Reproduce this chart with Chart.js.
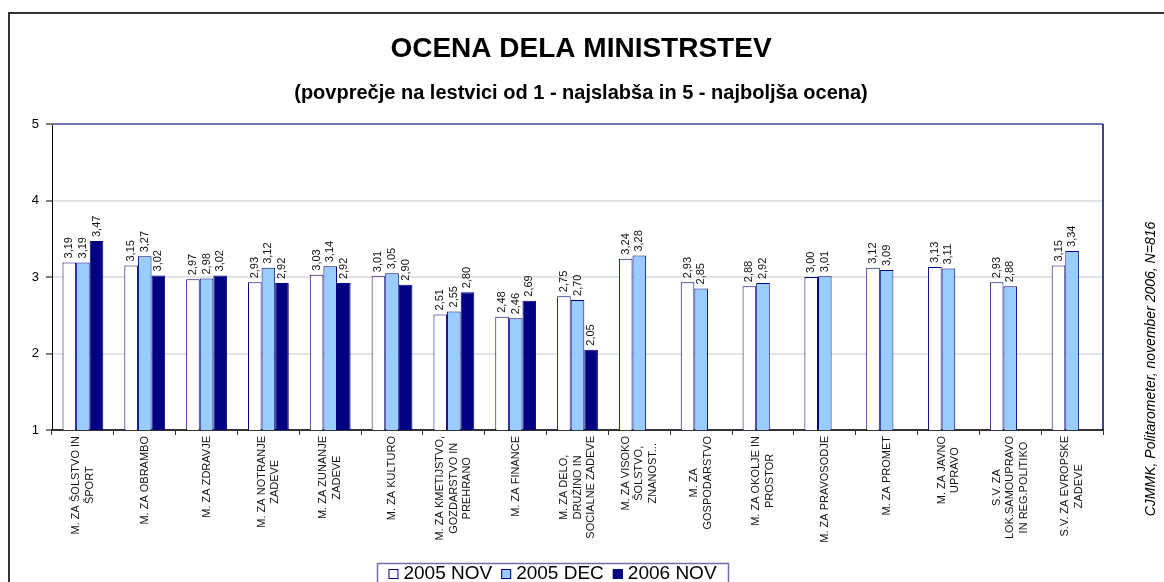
<!DOCTYPE html>
<html><head><meta charset="utf-8">
<script src="https://cdn.jsdelivr.net/npm/chart.js@4/dist/chart.umd.min.js"></script>
<style>html,body{margin:0;padding:0;background:#fff;overflow:hidden}#wrap{width:1164px;height:582px;position:relative}</style>
</head><body><div id="wrap"><canvas id="c" width="1164" height="582"></canvas></div>
<script>
const titleText = 'OCENA DELA MINISTRSTEV';
const subtitleText = '(povprečje na lestvici od 1 - najslabša in 5 - najboljša ocena)';
const sourceText = 'CJMMK, Politarometer, november 2006, N=816';
const categories = [
  ['M. ZA ŠOLSTVO IN', 'ŠPORT'],
  ['M. ZA OBRAMBO'],
  ['M. ZA ZDRAVJE'],
  ['M. ZA NOTRANJE', 'ZADEVE'],
  ['M. ZA ZUNANJE', 'ZADEVE'],
  ['M. ZA KULTURO'],
  ['M. ZA KMETIJSTVO,', 'GOZDARSTVO IN', 'PREHRANO'],
  ['M. ZA FINANCE'],
  ['M. ZA DELO,', 'DRUŽINO IN', 'SOCIALNE ZADEVE'],
  ['M. ZA VISOKO', 'ŠOLSTVO,', 'ZNANOST...'],
  ['M. ZA', 'GOSPODARSTVO'],
  ['M. ZA OKOLJE IN', 'PROSTOR'],
  ['M. ZA PRAVOSODJE'],
  ['M. ZA PROMET'],
  ['M. ZA JAVNO', 'UPRAVO'],
  ['S.V. ZA', 'LOK.SAMOUPRAVO', 'IN REG.POLITIKO'],
  ['S.V. ZA EVROPSKE', 'ZADEVE']
];
const seriesNames = ['2005 NOV', '2005 DEC', '2006 NOV'];
const nov2005 = [3.19, 3.15, 2.97, 2.93, 3.03, 3.01, 2.51, 2.48, 2.75, 3.24, 2.93, 2.88, 3.00, 3.12, 3.13, 2.93, 3.15];
const dec2005 = [3.19, 3.27, 2.98, 3.12, 3.14, 3.05, 2.55, 2.46, 2.70, 3.28, 2.85, 2.92, 3.01, 3.09, 3.11, 2.88, 3.34];
const nov2006 = [3.47, 3.02, 3.02, 2.92, 2.92, 2.90, 2.80, 2.69, 2.05, null, null, null, null, null, null, null, null];
const yTicks = [1, 2, 3, 4, 5];

const FONT = "'Liberation Sans', Arial, sans-serif";
const NAVY = '#000080';

const decoPlugin = {
  id: 'deco',
  beforeDraw(chart) {
    const ctx = chart.ctx;
    ctx.save();
    ctx.fillStyle = '#fff';
    ctx.fillRect(0, 0, chart.width, chart.height);
    ctx.strokeStyle = '#333';
    ctx.lineWidth = 2;
    ctx.beginPath();
    ctx.moveTo(9, chart.height + 2);
    ctx.lineTo(9, 13);
    ctx.lineTo(chart.width + 2, 13);
    ctx.stroke();
    ctx.fillStyle = '#000';
    ctx.textAlign = 'center';
    ctx.textBaseline = 'middle';
    ctx.font = 'bold 28px ' + FONT;
    ctx.fillText(titleText, 581, 49);
    ctx.font = 'bold 20px ' + FONT;
    ctx.fillText(subtitleText, 581, 93);
    ctx.font = 'italic 14px ' + FONT;
    ctx.translate(1151, 369);
    ctx.rotate(-Math.PI / 2);
    ctx.fillText(sourceText, 0, 0);
    ctx.restore();
  },
  afterDraw(chart) {
    const ctx = chart.ctx;
    const a = chart.chartArea;
    ctx.save();
    ctx.strokeStyle = '#7474b6';
    ctx.lineWidth = 2;
    ctx.beginPath();
    ctx.moveTo(a.left, a.top);
    ctx.lineTo(a.right, a.top);
    ctx.stroke();
    ctx.strokeStyle = NAVY;
    ctx.lineWidth = 1.5;
    ctx.beginPath();
    ctx.moveTo(a.right, a.top);
    ctx.lineTo(a.right, a.bottom);
    ctx.stroke();
    ctx.fillStyle = '#111';
    ctx.font = '11px ' + FONT;
    ctx.textAlign = 'left';
    ctx.textBaseline = 'middle';
    chart.data.datasets.forEach((ds, i) => {
      const meta = chart.getDatasetMeta(i);
      meta.data.forEach((el, j) => {
        const v = ds.data[j];
        if (v == null) return;
        ctx.save();
        ctx.translate(el.x, el.y - 4);
        ctx.rotate(-Math.PI / 2);
        ctx.fillText(v.toFixed(2).replace('.', ','), 0, 0);
        ctx.restore();
      });
    });
    const xs = chart.scales.x;
    ctx.fillStyle = '#111';
    ctx.font = '11px ' + FONT;
    ctx.textAlign = 'center';
    const lh = 13.5;
    chart.data.labels.forEach((lines, j) => {
      const x = xs.getPixelForValue(j);
      let maxW = 0;
      lines.forEach(l => { maxW = Math.max(maxW, ctx.measureText(l).width); });
      const cy = a.bottom + 6 + maxW / 2;
      const n = lines.length;
      lines.forEach((l, k) => {
        ctx.save();
        ctx.translate(x + (k - (n - 1) / 2) * lh, cy);
        ctx.rotate(-Math.PI / 2);
        ctx.fillText(l, 0, 0);
        ctx.restore();
      });
    });
    const bx = 377, by = 563, bw = 351, bh = 40;
    ctx.strokeStyle = '#6f6fb0';
    ctx.lineWidth = 1.5;
    ctx.strokeRect(bx + 0.5, by + 0.5, bw, bh);
    ctx.font = '19px ' + FONT;
    ctx.textAlign = 'left';
    ctx.textBaseline = 'middle';
    const sq = 10, g1 = 5, g2 = 9;
    let total = 0;
    const widths = chart.data.datasets.map(ds => ctx.measureText(ds.label).width);
    widths.forEach((w, i) => { total += sq + g1 + w + (i < widths.length - 1 ? g2 : 0); });
    let x = bx + (bw - total) / 2;
    const cyL = 574;
    chart.data.datasets.forEach((ds, i) => {
      ctx.fillStyle = ds.backgroundColor;
      ctx.fillRect(x, cyL - sq / 2, sq, sq);
      ctx.strokeStyle = NAVY;
      ctx.lineWidth = 1;
      ctx.strokeRect(x + 0.5, cyL - sq / 2 + 0.5, sq - 1, sq - 1);
      ctx.fillStyle = '#000';
      ctx.fillText(ds.label, x + sq + g1, cyL);
      x += sq + g1 + widths[i] + g2;
    });
    ctx.restore();
  }
};

const colors = ['#ffffff', '#99ccff', NAVY];
const seriesData = [nov2005, dec2005, nov2006];

new Chart(document.getElementById('c'), {
  type: 'bar',
  data: {
    labels: categories,
    datasets: seriesNames.map((name, i) => ({
      label: name,
      data: seriesData[i],
      backgroundColor: colors[i],
      borderColor: NAVY,
      borderWidth: 1,
      categoryPercentage: 0.66,
      barPercentage: 1.0
    }))
  },
  options: {
    responsive: false,
    animation: false,
    devicePixelRatio: 1,
    layout: { padding: { left: 10, top: 124, right: 61, bottom: 0 } },
    plugins: { legend: { display: false }, title: { display: false }, tooltip: { enabled: false } },
    scales: {
      x: {
        offset: true,
        grid: { display: true, offset: true, drawOnChartArea: false, drawTicks: true, tickLength: 5, color: '#333', lineWidth: 1 },
        border: { display: true, color: '#333', width: 2 },
        ticks: { display: false },
        afterFit(s) { s.height = 152; }
      },
      y: {
        min: 1, max: 5,
        afterBuildTicks(s) { s.ticks = yTicks.map(v => ({ value: v })); },
        ticks: { stepSize: 1, color: '#000', font: { size: 13, family: FONT }, padding: 7,
                 callback: v => String(v) },
        grid: { color: c => (c.tick && (c.tick.value === 1 || c.tick.value === 5)) ? 'rgba(0,0,0,0)' : '#e3e3e3',
                lineWidth: 2, tickLength: 6, tickColor: '#808080' },
        border: { display: true, color: '#000', width: 1 },
        afterFit(s) { s.width = 42; }
      }
    }
  },
  plugins: [decoPlugin]
});
</script>
</body></html>
